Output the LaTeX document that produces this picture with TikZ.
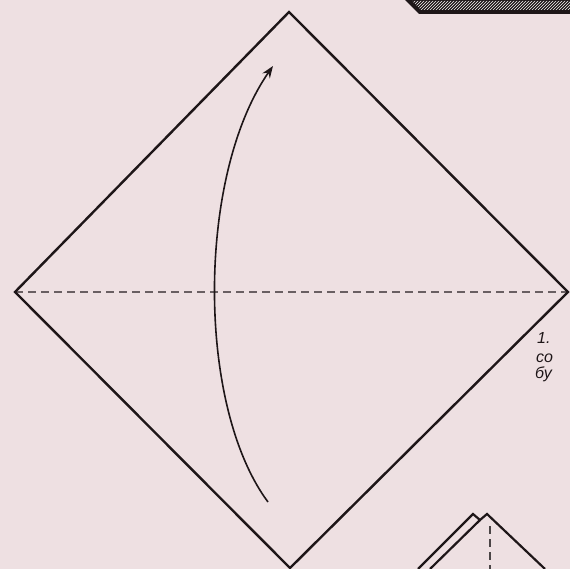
\documentclass[tikz,border=0pt]{standalone}
\usepackage{fontspec}
\setmainfont{Liberation Sans}
\usetikzlibrary{arrows.meta,patterns}
\definecolor{bg}{RGB}{238,224,226}
\definecolor{ink}{RGB}{30,22,24}
\definecolor{dashc}{RGB}{105,95,98}
\tikzset{
  fold/.style={draw=ink,line width=2.4pt,line join=miter},
  crease/.style={draw=dashc,line width=1.8pt,dash pattern=on 8pt off 5pt},
  motion/.style={draw=ink,line width=1.6pt,-{Stealth[length=12pt,width=9pt]}},
  caption/.style={font=\itshape\fontsize{16}{16}\selectfont,text=ink,anchor=west,inner sep=0pt}
}
\begin{document}
\begin{tikzpicture}[x=1pt,y=-1pt]
\fill[bg] (0,0) rectangle (570,569);
\useasboundingbox (0,0) rectangle (570,569);
% main square (diamond)
\coordinate (T) at (289,12);
\coordinate (L) at (15,292);
\coordinate (R) at (568,292);
\coordinate (B) at (290,568);
\draw[crease] (L) -- (R);
\draw[fold] (T) -- (L) -- (B) -- (R) -- cycle;
% motion arrow
\coordinate (s) at (268,502);
\coordinate (e) at (273,66);
\draw[motion] (s) .. controls (196,405) and (197,175) .. (e);
% partial shape top right (hatched bar)
\fill[ink] (405,0) -- (419,14) -- (570,14) -- (570,0) -- cycle;
\fill[pattern=north east lines,pattern color=white!60!bg] (412,1) -- (421,10) -- (570,10) -- (570,1) -- cycle;
% partial caption at right
\node[caption] (c1) at (537,338) {1.};
\node[caption] (c2) at (536,358) {со};
\node[caption] (c3) at (535,374) {бу};
% partial shape bottom right
\coordinate (p1) at (473,514);
\coordinate (p2) at (480,520);
\coordinate (p3) at (487,514);
\draw[fold,line width=2.2pt] (418,569) -- (p1) -- (p2) -- (p3) -- (545,569);
\draw[fold,line width=2.2pt] (p2) -- (430,569);
\draw[crease,draw=ink!80] (490,526) -- (490,569);
\end{tikzpicture}
\end{document}
